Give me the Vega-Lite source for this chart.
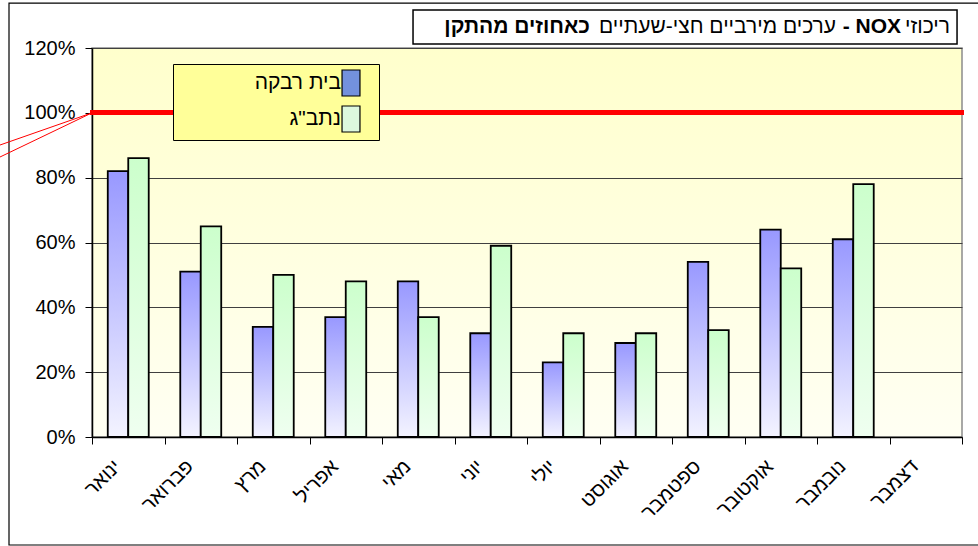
{
  "$schema": "https://vega.github.io/schema/vega-lite/v6.json",
  "width": 870,
  "height": 389,
  "autosize": {"type": "none"},
  "padding": {"left": 92, "top": 48, "right": 16, "bottom": 109},
  "background": "white",
  "config": {
    "font": "Liberation Sans",
    "view": {
      "stroke": "#8c8c8c",
      "strokeWidth": 1.5,
      "fill": {"gradient": "linear", "x1": 0, "y1": 0, "x2": 0, "y2": 1, "stops": [{"offset": 0, "color": "#FFFFCC"}, {"offset": 1, "color": "#FFFFF3"}]}
    }
  },
  "layer": [
    {
      "data": {
        "values": [
          {"month": "ינואר", "series": "בית רבקה", "value": 0.82},
          {"month": "ינואר", "series": "נתב\"ג", "value": 0.86},
          {"month": "פברואר", "series": "בית רבקה", "value": 0.51},
          {"month": "פברואר", "series": "נתב\"ג", "value": 0.65},
          {"month": "מרץ", "series": "בית רבקה", "value": 0.34},
          {"month": "מרץ", "series": "נתב\"ג", "value": 0.50},
          {"month": "אפריל", "series": "בית רבקה", "value": 0.37},
          {"month": "אפריל", "series": "נתב\"ג", "value": 0.48},
          {"month": "מאי", "series": "בית רבקה", "value": 0.48},
          {"month": "מאי", "series": "נתב\"ג", "value": 0.37},
          {"month": "יוני", "series": "בית רבקה", "value": 0.32},
          {"month": "יוני", "series": "נתב\"ג", "value": 0.59},
          {"month": "יולי", "series": "בית רבקה", "value": 0.23},
          {"month": "יולי", "series": "נתב\"ג", "value": 0.32},
          {"month": "אוגוסט", "series": "בית רבקה", "value": 0.29},
          {"month": "אוגוסט", "series": "נתב\"ג", "value": 0.32},
          {"month": "ספטמבר", "series": "בית רבקה", "value": 0.54},
          {"month": "ספטמבר", "series": "נתב\"ג", "value": 0.33},
          {"month": "אוקטובר", "series": "בית רבקה", "value": 0.64},
          {"month": "אוקטובר", "series": "נתב\"ג", "value": 0.52},
          {"month": "נובמבר", "series": "בית רבקה", "value": 0.61},
          {"month": "נובמבר", "series": "נתב\"ג", "value": 0.78}
        ]
      },
      "layer": [
        {
          "transform": [{"filter": "datum.series === 'בית רבקה'"}],
          "mark": {
            "type": "bar", "stroke": "black", "strokeWidth": 1.8,
            "fill": {"gradient": "linear", "x1": 0, "y1": 0, "x2": 0, "y2": 1, "stops": [{"offset": 0, "color": "#9898FF"}, {"offset": 1, "color": "#F3F3FF"}]}
          },
          "encoding": {
            "x": {
              "field": "month", "type": "nominal", "sort": null,
              "scale": {"domain": ["ינואר", "פברואר", "מרץ", "אפריל", "מאי", "יוני", "יולי", "אוגוסט", "ספטמבר", "אוקטובר", "נובמבר", "דצמבר"], "paddingInner": 0, "paddingOuter": 0},
              "axis": {
                "title": null, "tickBand": "extent", "labelAngle": -45, "labelAlign": "right", "labelBaseline": "middle",
                "labelFontSize": 20, "labelFont": "Liberation Sans", "labelColor": "black", "labelPadding": 19, "labelOffset": -11,
                "tickSize": 7, "tickColor": "black", "domainColor": "black", "domainWidth": 1.5, "grid": false, "labelOverlap": false
              }
            },
            "xOffset": {"field": "series", "type": "nominal", "scale": {"domain": ["בית רבקה", "נתב\"ג"], "paddingInner": 0, "paddingOuter": 0.77}},
            "y": {
              "field": "value", "type": "quantitative",
              "scale": {"domain": [0, 1.2], "nice": false},
              "axis": {
                "title": null, "values": [0, 0.2, 0.4, 0.6, 0.8, 1, 1.2], "format": ".0%",
                "labelFontSize": 20, "labelFont": "Liberation Sans", "labelColor": "black", "labelPadding": 10,
                "tickSize": 7, "tickColor": "black", "domainColor": "black", "domainWidth": 1.5,
                "gridColor": "#404040", "gridWidth": 1
              }
            }
          }
        },
        {
          "transform": [{"filter": "datum.series !== 'בית רבקה'"}],
          "mark": {
            "type": "bar", "stroke": "black", "strokeWidth": 1.8,
            "fill": {"gradient": "linear", "x1": 0, "y1": 0, "x2": 0, "y2": 1, "stops": [{"offset": 0, "color": "#CCFFCC"}, {"offset": 1, "color": "#EFFFF0"}]}
          },
          "encoding": {
            "x": {"field": "month", "type": "nominal", "sort": null},
            "xOffset": {"field": "series", "type": "nominal"},
            "y": {"field": "value", "type": "quantitative"}
          }
        },
        {
          "mark": {"type": "rule", "color": "#FF0000", "strokeWidth": 4, "strokeCap": "square"},
          "encoding": {"y": {"datum": 1, "type": "quantitative"}}
        },
        {
          "mark": {"type": "point", "filled": true, "opacity": 0, "stroke": "black", "strokeWidth": 1.2},
          "encoding": {
            "x": {"field": "month", "type": "nominal", "sort": null},
            "y": {"field": "value", "type": "quantitative"},
            "fill": {
              "field": "series", "type": "nominal",
              "scale": {"domain": ["בית רבקה", "נתב\"ג"], "range": ["#7391DD", "#DDF8DD"]},
              "legend": {
                "orient": "none", "legendX": 81, "legendY": 16,
                "title": "\u00a0", "titleOrient": "right", "titleFontSize": 6, "titlePadding": 12,
                "fillColor": "#FFFF99", "strokeColor": "black", "padding": 5,
                "symbolType": "M-0.69,-1H0.69V1H-0.69Z", "symbolSize": 676,
                "symbolStrokeColor": "black", "symbolStrokeWidth": 1.2, "symbolOpacity": 1,
                "labelFontSize": 21, "labelFont": "Liberation Sans", "labelColor": "black",
                "labelAlign": "right", "labelOffset": -24, "symbolOffset": 159, "rowPadding": 4
              }
            }
          }
        }
      ]
    },
    {
      "data": {"values": [{}]},
      "layer": [
        {
          "mark": {"type": "rect", "fill": "transparent", "stroke": "black", "strokeWidth": 1.2},
          "encoding": {
            "x": {"datum": -0.0954, "type": "quantitative", "scale": {"domain": [0, 1], "nice": false, "zero": false}, "axis": null},
            "x2": {"datum": 1.05},
            "y": {"datum": 1.3387, "type": "quantitative", "scale": {"domain": [0, 1.2], "nice": false, "zero": false}, "axis": null},
            "y2": {"datum": -0.3331}
          }
        },
        {
          "mark": {"type": "rule", "color": "#FF0000", "strokeWidth": 1},
          "encoding": {
            "x": {"datum": 0, "type": "quantitative"}, "x2": {"datum": -0.1058},
            "y": {"datum": 1.0, "type": "quantitative"}, "y2": {"datum": 0.9007}
          }
        },
        {
          "mark": {"type": "rule", "color": "#FF0000", "strokeWidth": 1},
          "encoding": {
            "x": {"datum": 0, "type": "quantitative"}, "x2": {"datum": -0.1058},
            "y": {"datum": 1.0, "type": "quantitative"}, "y2": {"datum": 0.8637}
          }
        },
        {
          "mark": {"type": "rect", "fill": "white", "stroke": "black", "strokeWidth": 1.5},
          "encoding": {
            "x": {"datum": 0.369, "type": "quantitative"}, "x2": {"datum": 0.9943},
            "y": {"datum": 1.3171, "type": "quantitative"}, "y2": {"datum": 1.2122}
          }
        },
        {
          "mark": {"type": "text", "text": "ריכוזי", "align": "right", "baseline": "middle", "fontSize": 21, "font": "Liberation Sans", "color": "black"},
          "encoding": {"x": {"datum": 0.9862, "type": "quantitative"}, "y": {"datum": 1.2646, "type": "quantitative"}}
        },
        {
          "mark": {"type": "text", "text": "- NOX", "align": "right", "baseline": "middle", "fontSize": 21, "fontWeight": "bold", "font": "Liberation Sans", "color": "black"},
          "encoding": {"x": {"datum": 0.9299, "type": "quantitative"}, "y": {"datum": 1.2646, "type": "quantitative"}}
        },
        {
          "mark": {"type": "text", "text": "ערכים מירביים חצי-שעתיים", "align": "right", "baseline": "middle", "fontSize": 21, "font": "Liberation Sans", "color": "black"},
          "encoding": {"x": {"datum": 0.8552, "type": "quantitative"}, "y": {"datum": 1.2646, "type": "quantitative"}}
        },
        {
          "mark": {"type": "text", "text": "כאחוזים מהתקן", "align": "right", "baseline": "middle", "fontSize": 21, "fontWeight": "bold", "font": "Liberation Sans", "color": "black"},
          "encoding": {"x": {"datum": 0.5724, "type": "quantitative"}, "y": {"datum": 1.2646, "type": "quantitative"}}
        }
      ]
    }
  ],
  "resolve": {"scale": {"x": "independent", "y": "independent"}}
}
